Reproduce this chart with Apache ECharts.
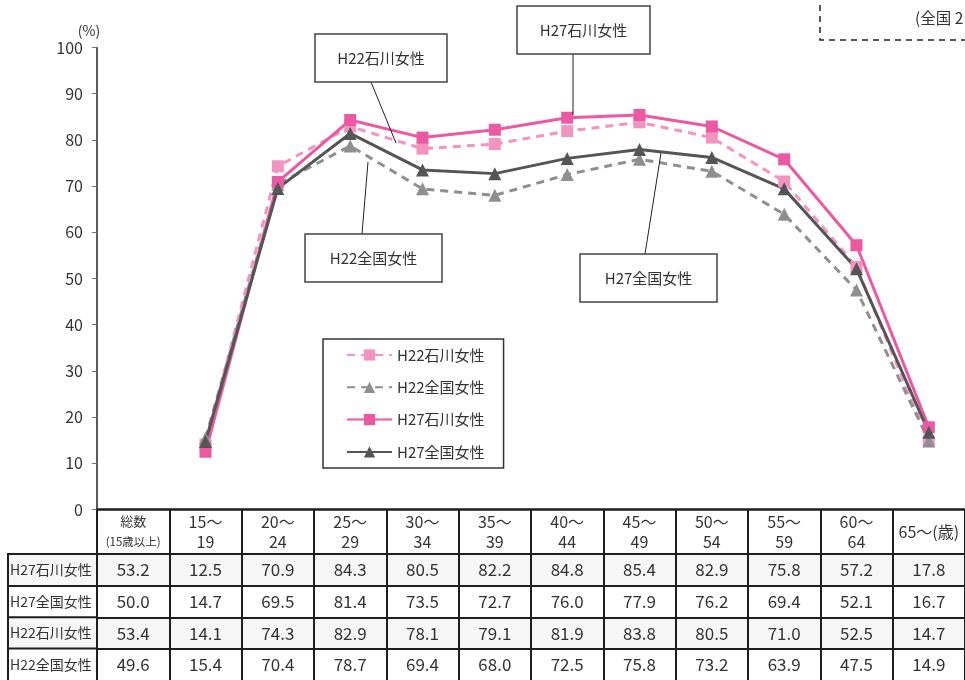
<!DOCTYPE html>
<html><head><meta charset="utf-8">
<script src="https://cdn.jsdelivr.net/npm/echarts@6/dist/echarts.min.js"></script>
<style>html,body{margin:0;padding:0;background:#fff}#c{width:965px;height:680px}</style>
</head><body><div id="c"></div>
<script>
// ---- data ----
const categories = ['総数(15歳以上)','15〜19','20〜24','25〜29','30〜34','35〜39','40〜44','45〜49','50〜54','55〜59','60〜64','65〜(歳)'];
const categoryTop = ['総数','15〜','20〜','25〜','30〜','35〜','40〜','45〜','50〜','55〜','60〜','65〜(歳)'];
const categoryBottom = ['(15歳以上)','19','24','29','34','39','44','49','54','59','64',''];
const yMin = 0, yMax = 100, yStep = 10;
const seriesNames = ['H22石川女性','H22全国女性','H27石川女性','H27全国女性'];
const h27Ishikawa = [53.2,12.5,70.9,84.3,80.5,82.2,84.8,85.4,82.9,75.8,57.2,17.8];
const h27Zenkoku  = [50.0,14.7,69.5,81.4,73.5,72.7,76.0,77.9,76.2,69.4,52.1,16.7];
const h22Ishikawa = [53.4,14.1,74.3,82.9,78.1,79.1,81.9,83.8,80.5,71.0,52.5,14.7];
const h22Zenkoku  = [49.6,15.4,70.4,78.7,69.4,68.0,72.5,75.8,73.2,63.9,47.5,14.9];
const tableRowNames = ['H27石川女性','H27全国女性','H22石川女性','H22全国女性'];
const tableRowValues = [h27Ishikawa, h27Zenkoku, h22Ishikawa, h22Zenkoku];
const topNote = '(全国 2';

// ---- layout / style ----
const FONT = '"Noto Sans CJK JP", "Noto Sans", sans-serif';
const TXT = '#333';
const LINE = '#1e1e1e';
const gridTop = 47.5, gridBottomY = 509.5, gridLeft = 97;
const rowTops = [554, 586, 617.3, 648.5];
const rowH = 31.5;
const rowBottomEnd = 690;
const colors = { h22i: '#F393C0', h22z: '#8F8F8F', h27i: '#EC58A2', h27z: '#555555' };

const chart = echarts.init(document.getElementById('c'), null, {renderer: 'canvas'});

function plotData(arr) { return arr.map((v, i) => i === 0 ? '-' : v); }

const xAxes = [{
  type: 'category', data: categories, position: 'bottom', boundaryGap: true, gridIndex: 0,
  axisLine: {show: true, lineStyle: {color: LINE, width: 2.5}},
  axisTick: {show: true, interval: 0, alignWithLabel: false, length: rowTops[0] - gridBottomY, lineStyle: {color: LINE, width: 2}},
  axisLabel: {
    interval: 0, margin: 22, verticalAlign: 'middle', fontFamily: FONT,
    formatter: (v, i) => i === 0 ? '{s|' + categoryTop[0] + '}\n{t|' + categoryBottom[0] + '}'
      : (categoryBottom[i] ? '{c|' + categoryTop[i] + '}\n{c|' + categoryBottom[i] + '}' : '{c|' + categoryTop[i] + '}'),
    rich: {
      s: {fontSize: 13, lineHeight: 20, color: TXT, fontFamily: FONT},
      t: {fontSize: 11.5, lineHeight: 20, color: TXT, fontFamily: FONT},
      c: {fontSize: 16, lineHeight: 20, color: TXT, fontFamily: FONT}
    }
  }
}];
tableRowValues.forEach((vals, r) => {
  const top = rowTops[r];
  const bottom = r < rowTops.length - 1 ? rowTops[r + 1] : rowBottomEnd;
  xAxes.push({
    type: 'category', data: categories, position: 'bottom', boundaryGap: true, gridIndex: 0,
    offset: top - gridBottomY,
    axisLine: {show: true, lineStyle: {color: LINE, width: 2}},
    axisTick: {show: true, interval: 0, alignWithLabel: false, length: bottom - top, lineStyle: {color: LINE, width: 2}},
    axisLabel: {
      interval: 0, margin: rowH / 2, verticalAlign: 'middle', fontFamily: FONT,
      fontSize: 17, color: TXT,
      formatter: (v, i) => vals[i].toFixed(1)
    }
  });
});

const graphics = [];
// row backgrounds
[0, 2].forEach(r => {
  graphics.push({type: 'rect', z: -10, silent: true,
    shape: {x: 8, y: rowTops[r], width: 960, height: rowTops[r + 1] - rowTops[r]},
    style: {fill: '#f6f6f6'}});
});
// row label column lines and text
rowTops.forEach((t, r) => {
  graphics.push({type: 'line', silent: true, shape: {x1: 7, y1: t, x2: 98, y2: t}, style: {stroke: LINE, lineWidth: 2}});
  graphics.push({type: 'text', silent: true, x: 10, y: t + rowH / 2,
    style: {text: tableRowNames[r], fill: TXT, font: '14px ' + FONT, verticalAlign: 'middle', align: 'left'}});
});
graphics.push({type: 'line', silent: true, shape: {x1: 8, y1: rowTops[0], x2: 8, y2: 690}, style: {stroke: LINE, lineWidth: 2}});

// callout boxes
function callout(label, x, y, w, h, lx1, ly1, lx2, ly2) {
  graphics.push({type: 'line', silent: true, z: 5, shape: {x1: lx1, y1: ly1, x2: lx2, y2: ly2}, style: {stroke: '#222', lineWidth: 1}});
  graphics.push({type: 'rect', silent: true, z: 5, shape: {x: x, y: y, width: w, height: h}, style: {fill: '#fff', stroke: '#444', lineWidth: 1.5}});
  graphics.push({type: 'text', silent: true, z: 6, x: x + w / 2, y: y + h / 2,
    style: {text: label, fill: TXT, font: '15px ' + FONT, align: 'center', verticalAlign: 'middle'}});
}
callout(seriesNames[0], 315, 34, 132, 48, 371, 82, 396, 143);
callout(seriesNames[2], 517, 6, 133, 48, 573, 54, 573, 115);
callout(seriesNames[1], 305, 234, 137, 48, 362, 234, 368, 162);
callout(seriesNames[3], 580, 254, 137, 48, 645, 254, 661, 153);
// top-right dashed note box
graphics.push({type: 'rect', silent: true, shape: {x: 820, y: -30, width: 220, height: 70},
  style: {fill: 'none', stroke: '#222', lineWidth: 1.5, lineDash: [6, 5]}});
graphics.push({type: 'text', silent: true, x: 915, y: 18,
  style: {text: topNote, fill: TXT, font: '15.5px ' + FONT, align: 'left', verticalAlign: 'middle'}});

function lineSeries(name, data, color, dashed, symbol, size) {
  return {
    name: name, type: 'line', data: plotData(data), symbol: symbol, symbolSize: size,
    showSymbol: true, connectNulls: false,
    lineStyle: {color: color, width: 3, type: dashed ? [8, 6] : 'solid'},
    itemStyle: {color: color},
    emphasis: {disabled: true}
  };
}

chart.setOption({
  animation: false,
  textStyle: {fontFamily: FONT},
  grid: {left: gridLeft, right: -1, top: gridTop, bottom: 680 - gridBottomY, containLabel: false},
  legend: {
    orient: 'vertical', left: 323, top: 339,
    data: seriesNames,
    backgroundColor: '#fff', borderColor: '#333', borderWidth: 1.5,
    padding: [6, 19, 6, 23], itemWidth: 45, itemHeight: 14, itemGap: 12.3, itemTextGap: 4,
    textStyle: {fontSize: 15, color: TXT, lineHeight: 20, fontFamily: FONT},
    selectedMode: false
  },
  xAxis: xAxes,
  yAxis: {
    type: 'value', min: yMin, max: yMax, interval: yStep,
    name: '(%)', nameLocation: 'end', nameGap: 10,
    nameTextStyle: {fontSize: 14, color: TXT, fontFamily: FONT, align: 'center', padding: [0, 16, 0, 0]},
    axisLine: {show: true, lineStyle: {color: '#222', width: 1.5}},
    axisTick: {show: true, length: 5, lineStyle: {color: '#777'}},
    splitLine: {show: false},
    axisLabel: {fontSize: 16, color: TXT, margin: 14, fontFamily: FONT}
  },
  graphic: graphics,
  series: [
    lineSeries(seriesNames[0], h22Ishikawa, colors.h22i, true, 'rect', 12),
    lineSeries(seriesNames[1], h22Zenkoku, colors.h22z, true, 'triangle', 13),
    lineSeries(seriesNames[2], h27Ishikawa, colors.h27i, false, 'rect', 12),
    lineSeries(seriesNames[3], h27Zenkoku, colors.h27z, false, 'triangle', 13)
  ]
});
</script></body></html>
